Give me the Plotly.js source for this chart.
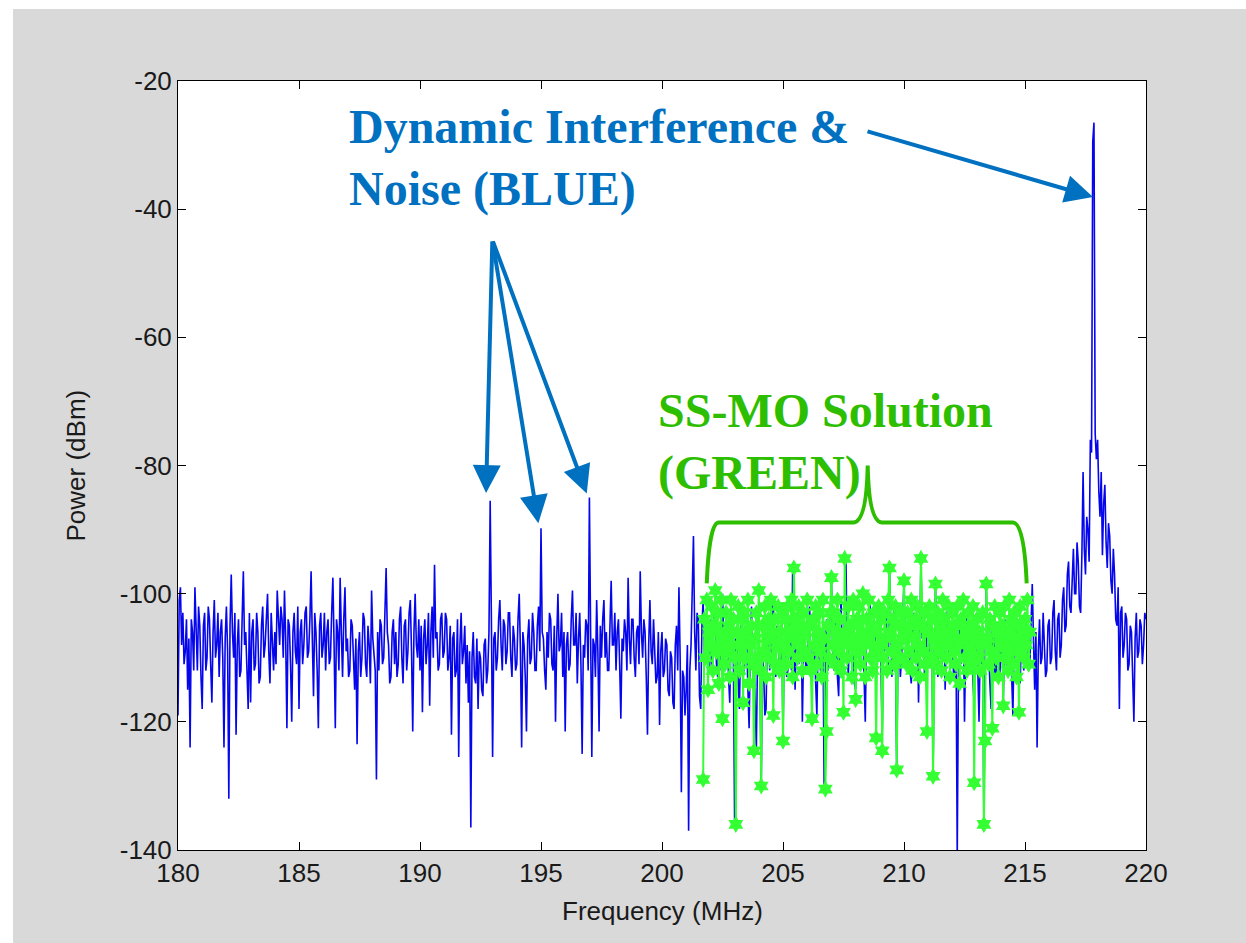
<!DOCTYPE html>
<html>
<head>
<meta charset="utf-8">
<script src="https://cdn.plot.ly/plotly-3.0.1.min.js"></script>
<style>
  html, body { margin: 0; padding: 0; background: #ffffff; }
  #chart { position: absolute; left: 13px; top: 9px; width: 1233px; height: 934px; }
</style>
</head>
<body>
<div id="chart"></div>
<script>
// ---- Data ----
// Blue trace: measured spectrum, 180.00 .. 220.00 MHz, 0.05 MHz steps (one row per MHz)
const blueStart = 180.0;
const blueStep = 0.05;
const bluePower = [
  -119,-101,-99,-108,-103,-111,-109,-104,-115,-107,-124,-104,-106,-112,-99,-107,-112,-102,-105,-113,
  -118,-105,-103,-112,-110,-102,-104,-111,-117,-106,-101,-110,-108,-103,-113,-106,-104,-110,-124,-107,
  -102,-109,-132,-105,-97,-106,-110,-103,-122,-108,-104,-113,-112,-104,-96.5,-108,-106,-112,-118,-103,
  -117,-106,-104,-112,-111,-103,-106,-114,-113,-105,-102,-110,-108,-104,-100,-109,-114,-103,-109,-112,
  -106,-111,-99.5,-105,-108,-102,-104,-110,-99.5,-107,-121,-104,-105,-111,-120,-106,-103,-109,-111,-102,
  -118,-106,-104,-111,-108,-103,-102,-110,-109,-104,-96.5,-107,-116,-103,-106,-112,-121,-105,-103,-110,
  -108,-103,-112,-106,-104,-111,-110,-103,-97.5,-108,-121,-104,-106,-112,-97.5,-106,-113,-104,-99,-109,
  -107,-113,-112,-104,-105,-110,-115,-107,-123.5,-109,-106,-113,-110,-103,-104,-111,-113,-105,-108,-114,
  -99.5,-107,-109,-112,-129,-106,-112,-104,-105,-111,-110,-102,-96,-106,-108,-114,-113,-106,-104,-111,
  -106,-113,-111,-104,-102,-110,-114,-105,-104,-112,-109,-103,-101,-109,-121.5,-106,-100,-108,-110,-104,
  -112,-105,-118.5,-107,-104,-111,-108,-103,-117.5,-106,-102,-110,-95.5,-107,-106,-112,-111,-104,-103,-110,
  -109,-103,-104,-112,-110,-105,-122,-107,-106,-113,-112,-104,-125.5,-108,-103,-111,-109,-105,-114,-108,
  -117,-109,-136.5,-110,-106,-113,-114,-107,-118,-109,-110,-115,-116,-108,-107,-114,-112,-106,-85.5,-104,
  -125.5,-107,-106,-112,-110,-104,-101,-108,-112,-104,-105,-111,-109,-103,-103,-110,-113,-105,-107,-112,
  -111,-104,-100,-109,-124,-106,-108,-113,-121.5,-107,-104,-111,-110,-103,-106,-112,-112,-105,-102,-109,
  -89.8,-106,-107,-112,-115,-106,-110,-103,-104,-111,-112,-105,-120,-107,-100,-109,-108,-103,-113,-106,
  -121.5,-108,-106,-112,-111,-104,-99.5,-108,-108,-103,-114,-107,-103,-111,-125,-108,-110,-104,-105,-112,
  -85,-106,-125.5,-107,-108,-113,-101,-109,-121.5,-105,-110,-104,-101,-110,-106,-112,-112,-105,-98,-108,
  -108,-103,-112,-106,-104,-111,-119.5,-107,-109,-104,-106,-112,-97.5,-107,-111,-104,-104,-110,-113,-106,
  -105,-111,-96.5,-106,-110,-104,-106,-113,-122,-108,-101,-109,-111,-104,-108,-114,-113,-106,-120.5,-109,
  -106,-113,-112,-107,-108,-115,-116,-109,-110,-117,-118,-108,-105,-112,-99,-110,-131,-112,-113,-119,
  -115,-108,-137,-112,-108,-100,-91,-106,-112,-103,-104,-116,-118,-105,-101,-110,-110,-104,-106,-112,
  -104,-112,-110,-103,-102,-111,-113,-105,-106,-112,-100,-108,-111,-104,-105,-113,-117,-107,-103,-110,
  -135.5,-107,-108,-114,-118,-106,-104,-113,-112,-105,-107,-115,-121,-108,-102,-111,-110,-117,-124,-109,
  -106,-114,-130,-110,-112,-119,-118,-107,-104,-112,-109,-103,-101,-110,-113,-105,-106,-113,-110,-104,
  -123,-108,-104,-113,-112,-104,-107,-112,-96,-108,-115,-106,-103,-111,-109,-104,-120,-109,-105,-112,
  -111,-104,-102,-110,-115,-106,-108,-114,-119,-107,-106,-112,-113,-105,-130.5,-110,-104,-112,-110,-103,
  -97.5,-108,-112,-104,-106,-113,-116,-106,-101,-110,-109,-103,-94.5,-108,-113,-105,-104,-111,-108,-114,
  -115,-106,-103,-111,-110,-104,-106,-113,-120,-107,-108,-103,-101,-110,-112,-105,-105,-113,-111,-104,
  -104,-112,-122,-108,-109,-103,-107,-112,-96,-108,-113,-105,-102,-111,-127.5,-109,-106,-113,-110,-104,
  -98,-107,-111,-104,-105,-112,-114,-106,-103,-110,-108,-103,-117,-108,-94.5,-107,-106,-113,-112,-105,
  -104,-111,-110,-105,-128.5,-110,-99,-107,-113,-105,-106,-112,-109,-103,-115,-107,-102,-110,-111,-105,
  -107,-113,-113,-108,-141,-112,-105,-111,-109,-104,-120,-108,-103,-110,-112,-105,-108,-114,-117,-107,
  -106,-112,-120,-108,-111,-105,-136,-112,-99,-107,-109,-114,-118,-106,-104,-112,-113,-105,-107,-113,
  -110,-104,-117,-108,-104,-111,-112,-105,-106,-113,-119,-107,-102,-109,-110,-104,-114,-107,-105,-112,
  -108,-103,-105,-112,-111,-104,-98.5,-107,-115,-106,-124,-109,-104,-111,-110,-103,-107,-113,-112,-105,
  -104,-111,-110,-103,-101,-109,-112,-104,-103,-110,-108,-101,-99,-106,-105,-97,-95,-102,-103,-96,
  -93,-100,-100,-92,-95,-102,-103,-94,-81,-93,-97,-88,-90,-95,-76,-78,-29.5,-26.5,-75,-79,
  -76,-84,-88,-81,-94,-86,-83,-92,-96,-89,-91,-98,-100,-93,-97,-104,-105,-99,-118,-103,
  -102,-110,-108,-103,-104,-112,-111,-105,-106,-113,-120,-107,-103,-110,-109,-104,-105,-111,-108,-103,
  -104
];

// Green trace: SS-MO solution, 201.70 .. 215.20 MHz, 0.05 MHz steps
const greenStart = 201.70;
const greenStep = 0.05;
const greenPower = [
  -129, -104, -110, -101, -115, -106,
  -108, -102, -112, -105, -99.5, -109, -103, -114, -106, -101, -119.5, -107, -111, -103, -109, -105, -113, -101, -108, -104,
  -110, -136, -106, -102, -112, -108, -104, -117, -103, -110, -106, -101, -114, -108, -105, -111, -124.5, -107, -103, -110,
  -99.5, -112, -130, -105, -109, -102, -113, -107, -104, -110, -101, -106, -119, -104, -111, -108, -102, -112, -106, -103,
  -123, -108, -104, -111, -102, -109, -106, -101, -113, -96, -107, -104, -110, -102, -108, -105, -112, -103, -109, -106,
  -101, -110, -105, -112, -119.5, -104, -108, -102, -111, -106, -103, -109, -113, -101, -107, -130.5, -121.5, -105, -110, -103,
  -97.5, -108, -103, -111, -106, -101, -109, -104, -112, -107, -118.5, -94.5, -106, -110, -102, -108, -105, -113, -101, -107,
  -116.5, -104, -109, -102, -111, -106, -100, -108, -113, -104, -107, -101, -110, -105, -112, -103, -109, -122.5, -106, -102,
  -108, -104, -124.5, -110, -103, -107, -112, -101, -96, -106, -109, -104, -111, -102, -127.5, -108, -105, -110, -103, -107,
  -98, -106, -111, -103, -109, -105, -101, -112, -107, -104, -110, -102, -108, -113, -94.5, -105, -109, -103, -111, -121.5,
  -106, -102, -110, -104, -128.5, -107, -98.5, -111, -103, -109, -105, -112, -101, -108, -104, -110, -106, -102, -113, -107,
  -103, -109, -105, -111, -102, -108, -114, -104, -107, -101, -110, -106, -112, -103, -109, -105, -111, -102, -129.5, -107,
  -104, -110, -106, -112, -108, -103, -136, -123, -98.5, -107, -111, -104, -109, -121, -105, -102, -110, -106, -113, -103,
  -108, -105, -117.5, -102, -110, -106, -112, -101, -109, -104, -111, -103, -107, -113, -105, -118.5, -102, -109, -106, -110,
  -104, -108, -101, -111, -106
];

// Axis ticks
const xTickVals = [180, 185, 190, 195, 200, 205, 210, 215, 220];
const xTickText = ['180', '185', '190', '195', '200', '205', '210', '215', '220'];
const yTickVals = [-140, -120, -100, -80, -60, -40, -20];
const yTickText = ['-140', '-120', '-100', '-80', '-60', '-40', '-20'];

// ---- Build traces ----
const blueFreq = bluePower.map((_, i) => +(blueStart + i * blueStep).toFixed(3));
const greenFreq = greenPower.map((_, i) => +(greenStart + i * greenStep).toFixed(3));

const traces = [
  {
    type: 'scatter', mode: 'lines',
    x: blueFreq, y: bluePower,
    line: { color: '#0606ec', width: 1.6 },
    hoverinfo: 'x+y', showlegend: false
  },
  {
    type: 'scatter', mode: 'lines+markers',
    x: greenFreq, y: greenPower,
    line: { color: '#33ff33', width: 2 },
    marker: { symbol: 'hexagram', size: 13, color: '#33ff33', line: { width: 0 } },
    hoverinfo: 'x+y', showlegend: false
  }
];

const blueTxt = '#0070c0';
const greenTxt = '#2dbe00';
const serif = 'Liberation Serif, Times New Roman, serif';
const sans = 'Liberation Sans, Arial, sans-serif';

const annotations = [
  { x: -0.1064, y: 0.5, xref: 'paper', yref: 'paper', text: 'Power (dBm)', textangle: -90,
    showarrow: false, xanchor: 'center', yanchor: 'middle', font: { family: sans, size: 26, color: '#1a1a1a' } },
  { x: 0.5, y: -0.079, xref: 'paper', yref: 'paper', text: 'Frequency (MHz)',
    showarrow: false, xanchor: 'center', yanchor: 'middle', font: { family: sans, size: 26, color: '#1a1a1a' } },
  { x: 187.0, y: -32.0, xref: 'x', yref: 'y', text: '<b>Dynamic Interference &amp;<br>Noise (BLUE)</b>',
    showarrow: false, xanchor: 'left', yanchor: 'middle', align: 'left',
    font: { family: serif, size: 48, color: blueTxt } },
  { x: 199.75, y: -76.4, xref: 'x', yref: 'y', text: '<b>SS-MO Solution<br>(GREEN)</b>',
    showarrow: false, xanchor: 'left', yanchor: 'middle', align: 'left',
    font: { family: serif, size: 48, color: greenTxt } },
  // arrows
  { x: 217.81, y: -38.1, ax: 208.43, ay: -27.8, xref: 'x', yref: 'y', axref: 'x', ayref: 'y',
    text: '', showarrow: true, arrowhead: 2, arrowsize: 1.4, arrowwidth: 4, arrowcolor: blueTxt },
  { x: 192.73, y: -84.3, ax: 192.99, ay: -44.8, xref: 'x', yref: 'y', axref: 'x', ayref: 'y',
    text: '', showarrow: true, arrowhead: 2, arrowsize: 1.4, arrowwidth: 4, arrowcolor: blueTxt },
  { x: 194.89, y: -89.0, ax: 192.99, ay: -44.8, xref: 'x', yref: 'y', axref: 'x', ayref: 'y',
    text: '', showarrow: true, arrowhead: 2, arrowsize: 1.4, arrowwidth: 4, arrowcolor: blueTxt },
  { x: 196.89, y: -84.35, ax: 192.99, ay: -44.8, xref: 'x', yref: 'y', axref: 'x', ayref: 'y',
    text: '', showarrow: true, arrowhead: 2, arrowsize: 1.4, arrowwidth: 4, arrowcolor: blueTxt }
];

const shapes = [
  { type: 'path', xref: 'x', yref: 'y',
    path: 'M 201.85,-98.4 Q 201.95,-88.9 202.35,-88.9 L 207.9,-88.9 Q 208.45,-88.9 208.5,-80 ' +
          'Q 208.55,-88.9 209.1,-88.9 L 214.5,-88.9 Q 214.97,-88.9 215.07,-98.4',
    line: { color: greenTxt, width: 4 }, fillcolor: 'rgba(0,0,0,0)' }
];

const axisCommon = {
  showline: true, linecolor: '#000000', linewidth: 1, mirror: 'ticks',
  ticks: 'inside', ticklen: 8, tickwidth: 1, tickcolor: '#000000',
  showgrid: false, zeroline: false,
  tickfont: { family: sans, size: 26, color: '#1a1a1a' }
};

const layout = {
  width: 1233, height: 934,
  margin: { l: 165, r: 100, t: 72, b: 93 },
  paper_bgcolor: '#d9d9d9', plot_bgcolor: '#ffffff',
  showlegend: false,
  xaxis: Object.assign({}, axisCommon, {
    range: [180, 220], tickmode: 'array', tickvals: xTickVals, ticktext: xTickText
  }),
  yaxis: Object.assign({}, axisCommon, {
    range: [-140, -20], tickmode: 'array', tickvals: yTickVals, ticktext: yTickText
  }),
  annotations: annotations,
  shapes: shapes
};

Plotly.newPlot('chart', traces, layout, { displayModeBar: false, staticPlot: true });
</script>
</body>
</html>
